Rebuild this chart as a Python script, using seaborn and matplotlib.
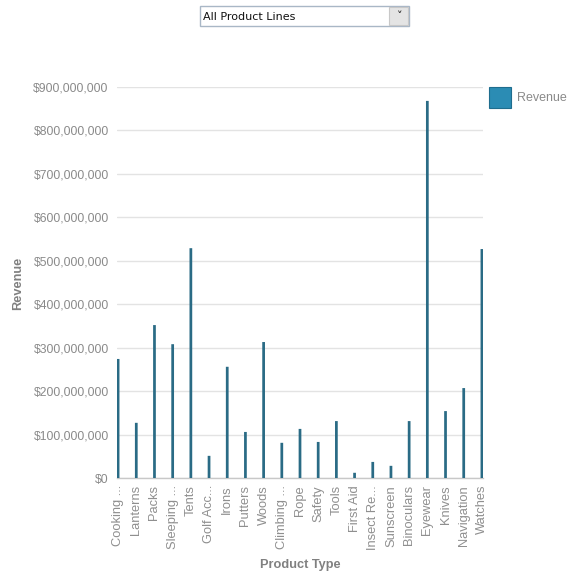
import matplotlib
matplotlib.use("Agg")
import matplotlib.pyplot as plt
import matplotlib.ticker as mticker
from matplotlib.patches import Rectangle
import seaborn as sns
import pandas as pd

categories = ["Cooking ...", "Lanterns", "Packs", "Sleeping ...", "Tents", "Golf Acc...",
              "Irons", "Putters", "Woods", "Climbing ...", "Rope", "Safety", "Tools",
              "First Aid", "Insect Re...", "Sunscreen", "Binoculars", "Eyewear",
              "Knives", "Navigation", "Watches"]
revenue = [274e6, 127e6, 352e6, 308e6, 529e6, 51e6, 256e6, 106e6, 313e6, 81e6, 113e6,
           83e6, 131e6, 12e6, 37e6, 28e6, 131e6, 868e6, 154e6, 207e6, 527e6]
yticks = [0, 1e8, 2e8, 3e8, 4e8, 5e8, 6e8, 7e8, 8e8, 9e8]
series_name = "Revenue"
dropdown_text = "All Product Lines"

df = pd.DataFrame({"Product Type": categories, "Revenue": revenue})

sns.set_theme(style="white")
plt.rcParams["font.family"] = ["Liberation Sans", "DejaVu Sans"]

W, H = 569, 578
fig = plt.figure(figsize=(W / 100, H / 100), dpi=100)
left, right, bottom, top = 117, 483, 478, 87
ax = fig.add_axes([left / W, 1 - bottom / H, (right - left) / W, (bottom - top) / H])

bar_color = "#2a6b85"
sns.barplot(data=df, x="Product Type", y="Revenue", color=bar_color, width=0.15,
            saturation=1, ax=ax, zorder=3, linewidth=0)
for p in ax.patches:
    p.set_snap(False)

ax.set_xlim(-0.06, len(categories) - 1 + 0.06)
ax.set_ylim(0, 9e8)
ax.set_yticks(yticks)
ax.yaxis.set_major_formatter(mticker.FuncFormatter(lambda v, p: "${:,.0f}".format(v)))
ax.grid(axis="y", color="#e3e3e3", linewidth=1, zorder=0)
ax.grid(axis="x", visible=False)
for s in ["top", "right", "left"]:
    ax.spines[s].set_visible(False)
ax.spines["bottom"].set_color("#c8c8c8")
ax.spines["bottom"].set_linewidth(1)

ax.tick_params(axis="y", colors="#8a8a8a", labelsize=8.7, length=0, pad=6)
ax.tick_params(axis="x", colors="#8a8a8a", labelsize=9.3, length=0, pad=5)
for lab in ax.get_xticklabels():
    lab.set_rotation(90)
    lab.set_color("#8f8f8f")

ax.set_ylabel("")
ax.set_xlabel("")
fig.text(18 / W, 1 - 283 / H, "Revenue", color="#808080", fontsize=9.2, fontweight="bold",
         rotation=90, ha="center", va="center")
fig.text(300 / W, 1 - 565 / H, "Product Type", color="#808080", fontsize=9.2, fontweight="bold",
         ha="center", va="center")

# legend
leg_patch = Rectangle((489 / W, 1 - 108 / H), 22 / W, 21 / H, transform=fig.transFigure,
                      facecolor="#2b8cb4", edgecolor="#1f6d8e", linewidth=0.8)
fig.patches.append(leg_patch)
fig.text(517 / W, 1 - 98 / H, series_name, color="#8a8a8a", fontsize=9, va="center", ha="left")

# dropdown
box = Rectangle((200 / W, 1 - 26 / H), 209 / W, 20 / H, transform=fig.transFigure,
                facecolor="white", edgecolor="#a9b7c6", linewidth=1)
fig.patches.append(box)
btn = Rectangle((389 / W, 1 - 25 / H), 19 / W, 18 / H, transform=fig.transFigure,
                facecolor="#e4e4e4", edgecolor="#c8c8c8", linewidth=0.8)
fig.patches.append(btn)
fig.text(398.5 / W, 1 - 16 / H, "\u02c5", color="#333333", fontsize=8, ha="center", va="center",
         fontfamily="DejaVu Sans", fontweight="bold")
fig.text(203 / W, 1 - 16.5 / H, dropdown_text, color="#111111", fontsize=8, ha="left", va="center",
         fontfamily="DejaVu Sans")

fig.savefig("out.png", dpi=100)
